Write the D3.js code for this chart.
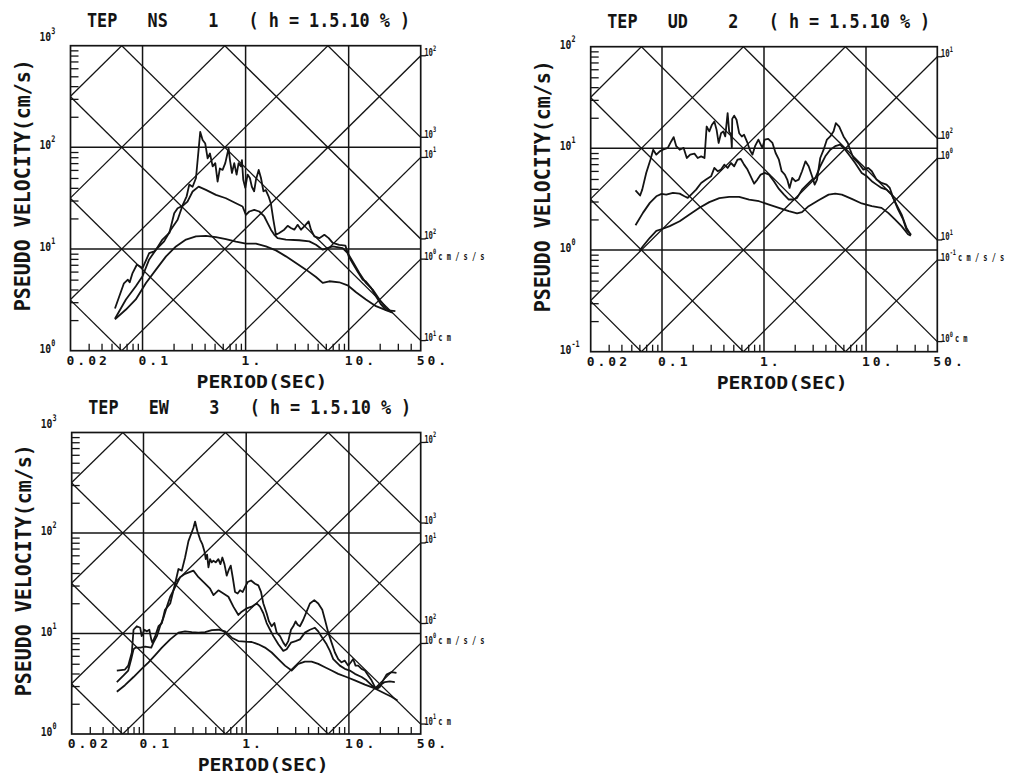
<!DOCTYPE html>
<html>
<head>
<meta charset="utf-8">
<script src="https://cdn.jsdelivr.net/npm/d3@7"></script>
<style>
  body { margin: 0; background: #fff; }
  svg text { font-family: "DejaVu Sans Mono", monospace; fill: #141414; font-weight: bold; }
</style>
</head>
<body>
<svg id="chart" width="1012" height="780"></svg>
<script>
// ── Data ─────────────────────────────────────────────────────────
// [period (s), pseudo velocity (cm/s)]
const periodDomain = [0.02, 50];
const periodTicks = [0.02, 0.1, 1, 10, 50];
const periodTickLabels = ["0.02", "0.1", "1.", "10.", "50."];
const periodGrid = [0.1, 1, 10];
const velDomainHoriz = [1, 1000];
const velDomainVert = [0.1, 100];

const panelTitles = [
    "TEP   NS    1   ( h = 1.5.10 % )",
    "TEP   UD    2   ( h = 1.5.10 % )",
    "TEP   EW    3   ( h = 1.5.10 % )"
];

// NS, damping 1 / 5 / 10 %
const nsH1 = [[0.054,2.6],[0.066,4.6],[0.072,5.0],[0.075,4.7],[0.080,5.8],[0.088,7.0],[0.093,6.8],[0.100,6.5],[0.116,9.1],[0.130,9.5],[0.145,10.6],[0.162,11.9],[0.188,15.5],[0.219,19.4],[0.245,27],[0.268,33],[0.284,43],[0.306,41],[0.330,50],[0.363,142],[0.383,118],[0.406,109],[0.428,78],[0.451,87],[0.479,65],[0.508,70],[0.535,46],[0.563,62],[0.598,60],[0.635,70],[0.684,98],[0.705,75],[0.737,56],[0.776,70],[0.818,54],[0.855,70],[0.902,65],[0.921,75],[0.949,48],[0.993,40],[1.045,54],[1.10,50],[1.15,41],[1.21,37],[1.26,48],[1.34,60],[1.41,50],[1.49,37],[1.57,38],[1.67,33],[1.76,28],[1.86,19.4],[1.97,13.8],[2.12,14.4],[2.37,15.5],[2.56,16.9],[2.75,16.1],[2.97,15.5],[3.20,17.3],[3.45,15.5],[3.71,16.7],[4.09,18.7],[4.31,15.5],[4.64,13.3],[5.19,12.8],[5.81,13.8],[6.40,12.8],[7.0,11.5],[8.1,11.0],[9.3,10.8],[10.0,8.5],[10.9,7.3],[12.2,6.0],[13.7,5.0],[14.7,4.8],[16.5,4.15],[18.4,3.43],[20.6,2.85],[23.0,2.51],[28.4,2.45]];
const nsH5 = [[0.054,2.06],[0.069,3.19],[0.086,4.31],[0.100,5.4],[0.116,7.9],[0.135,9.85],[0.156,12.4],[0.182,14.4],[0.203,22.5],[0.219,25.2],[0.245,26.6],[0.273,29.3],[0.306,36.8],[0.350,41.1],[0.412,38.2],[0.515,34.1],[0.644,31.6],[0.806,28.2],[0.935,26.2],[1.007,21.7],[1.086,23.4],[1.213,24.3],[1.357,23.4],[1.518,20.9],[1.635,18.0],[1.762,15.5],[1.898,13.8],[2.045,12.8],[2.46,12.4],[3.32,12.2],[4.15,11.9],[4.82,11.0],[5.60,9.85],[7.0,10.6],[8.74,10.2],[9.78,9.14],[10.9,7.57],[12.7,5.82],[14.7,4.64],[17.1,3.99],[19.9,3.19],[23.0,2.64],[25.8,2.40]];
const nsH10 = [[0.054,2.03],[0.069,2.54],[0.086,3.19],[0.108,4.64],[0.135,6.27],[0.169,8.47],[0.211,10.6],[0.264,12.4],[0.330,13.3],[0.412,13.5],[0.515,13.1],[0.644,12.5],[0.806,11.8],[1.007,11.3],[1.259,11.3],[1.574,10.6],[1.969,9.70],[2.46,8.47],[3.08,7.29],[3.85,6.27],[4.82,5.31],[5.60,4.64],[6.49,4.82],[8.11,4.71],[9.78,4.40],[11.8,3.76],[14.7,3.19],[18.4,2.74],[23.0,2.51],[26.7,2.36]];

// UD
const udH1 = [[0.055,3.87],[0.061,3.44],[0.064,3.93],[0.070,5.73],[0.077,7.74],[0.082,9.70],[0.088,8.67],[0.095,9.35],[0.102,9.70],[0.114,10.1],[0.123,11.7],[0.130,12.9],[0.138,10.5],[0.149,9.70],[0.163,10.1],[0.175,8.04],[0.189,8.67],[0.208,8.87],[0.224,8.04],[0.242,8.35],[0.261,8.04],[0.274,16.4],[0.291,14.7],[0.309,17.1],[0.326,18.4],[0.343,15.2],[0.359,11.3],[0.379,14.1],[0.399,14.7],[0.417,13.1],[0.440,22.2],[0.456,14.5],[0.474,13.8],[0.484,10.1],[0.488,19.5],[0.510,21.0],[0.538,19.1],[0.571,14.1],[0.606,13.1],[0.638,13.6],[0.689,11.3],[0.725,9.70],[0.770,8.67],[0.817,10.5],[0.881,12.2],[0.929,10.9],[0.964,10.1],[1.015,12.2],[1.10,12.4],[1.21,11.3],[1.30,9.0],[1.40,7.74],[1.49,5.96],[1.60,5.52],[1.69,4.93],[1.78,4.08],[1.89,5.12],[2.03,4.75],[2.19,4.93],[2.36,5.96],[2.55,7.46],[2.74,6.67],[2.96,5.31],[3.14,4.40],[3.31,4.93],[3.56,8.04],[3.84,9.70],[4.14,12.2],[4.46,13.1],[4.81,14.7],[5.06,17.7],[5.46,16.4],[6.02,13.1],[6.63,11.3],[6.99,9.70],[7.53,8.04],[8.43,7.18],[9.43,6.18],[10.5,6.42],[11.4,5.96],[12.7,4.93],[14.2,4.57],[15.9,4.40],[17.1,4.08],[18.5,3.26],[20.6,2.51],[23.1,2.00],[24.9,1.59],[27.6,1.42]];
const udH5 = [[0.055,1.75],[0.065,2.32],[0.076,2.91],[0.088,3.38],[0.099,3.57],[0.110,3.51],[0.128,3.65],[0.149,3.59],[0.166,3.38],[0.179,3.26],[0.193,3.51],[0.216,3.93],[0.242,4.57],[0.270,4.93],[0.303,5.31],[0.326,6.42],[0.351,5.96],[0.379,6.18],[0.408,6.92],[0.440,6.42],[0.474,7.18],[0.510,6.67],[0.550,7.74],[0.593,7.86],[0.638,6.92],[0.689,6.18],[0.741,5.31],[0.800,4.50],[0.861,4.93],[0.929,5.52],[1.015,5.73],[1.12,5.52],[1.25,4.75],[1.40,3.99],[1.57,3.51],[1.75,3.14],[1.96,3.14],[2.11,3.26],[2.36,3.93],[2.64,4.40],[2.96,4.93],[3.19,5.12],[3.56,6.67],[3.99,8.35],[4.46,9.70],[4.99,10.5],[5.58,10.9],[6.25,9.70],[6.99,8.35],[7.82,7.18],[9.08,5.73],[10.2,5.31],[11.4,4.75],[12.7,4.40],[14.2,4.08],[15.9,3.93],[17.8,3.51],[19.9,2.80],[22.3,2.24],[24.9,1.66],[27.5,1.40]];
const udH10 = [[0.060,0.98],[0.065,1.09],[0.076,1.32],[0.088,1.54],[0.102,1.62],[0.119,1.72],[0.149,1.92],[0.186,2.24],[0.233,2.60],[0.291,2.96],[0.365,3.24],[0.456,3.33],[0.571,3.33],[0.715,3.14],[0.894,3.02],[1.12,2.80],[1.40,2.60],[1.75,2.41],[2.11,2.29],[2.36,2.36],[2.74,2.70],[3.43,3.09],[4.30,3.51],[4.99,3.59],[5.80,3.51],[7.25,3.19],[9.08,2.87],[11.4,2.70],[14.2,2.60],[16.5,2.32],[19.2,2.00],[22.3,1.72],[25.8,1.43],[27.5,1.38]];

// EW
const ewH1 = [[0.055,4.28],[0.066,4.38],[0.071,4.79],[0.077,6.47],[0.080,10.9],[0.086,11.8],[0.093,11.4],[0.096,9.42],[0.102,10.9],[0.108,10.5],[0.114,10.9],[0.119,8.74],[0.122,8.11],[0.130,9.42],[0.140,11.8],[0.151,12.7],[0.162,17.2],[0.182,19.9],[0.203,31.3],[0.219,43.8],[0.236,42.2],[0.254,57.0],[0.274,82.9],[0.306,112],[0.318,130],[0.335,104],[0.356,86],[0.375,77],[0.392,66],[0.404,55],[0.416,61],[0.429,45.5],[0.445,55],[0.462,51],[0.480,53],[0.505,51],[0.536,55],[0.561,49],[0.586,57],[0.614,49],[0.646,37.7],[0.681,43.8],[0.707,47.3],[0.739,36.3],[0.778,25.9],[0.826,25.0],[0.871,26.9],[0.925,25.9],[0.975,29.0],[1.035,32.5],[1.115,33.7],[1.219,31.3],[1.313,30.1],[1.394,25.9],[1.469,19.9],[1.582,15.9],[1.667,13.2],[1.771,11.8],[1.879,12.7],[1.981,10.2],[2.134,9.42],[2.298,8.11],[2.421,7.52],[2.569,8.41],[2.729,10.9],[2.873,11.8],[3.028,13.2],[3.167,12.2],[3.336,11.8],[3.594,13.7],[3.872,16.5],[4.172,19.9],[4.600,21.5],[5.029,19.9],[5.504,17.2],[5.845,13.7],[6.296,10.2],[6.781,8.11],[7.304,6.47],[7.867,5.57],[8.474,5.17],[9.127,5.37],[9.830,4.79],[10.45,5.17],[11.01,5.57],[11.60,4.79],[12.32,4.79],[13.28,4.45],[14.31,4.28],[15.42,3.83],[16.61,3.42],[17.90,2.94],[18.99,2.84],[20.01,2.94],[21.56,3.42],[23.23,3.90],[25.98,4.13],[29.05,4.05]];
const ewH5 = [[0.055,3.29],[0.064,3.83],[0.071,4.28],[0.076,5.57],[0.080,6.98],[0.084,7.24],[0.093,7.24],[0.104,7.41],[0.119,7.24],[0.125,8.11],[0.135,9.42],[0.145,11.8],[0.156,14.2],[0.169,18.5],[0.182,23.2],[0.203,29.0],[0.227,36.3],[0.254,39.2],[0.306,42.2],[0.343,36.3],[0.398,31.3],[0.445,27.9],[0.480,24.1],[0.536,26.9],[0.600,25.0],[0.671,23.2],[0.750,18.5],[0.839,15.3],[0.904,16.5],[1.012,17.8],[1.131,18.5],[1.265,19.9],[1.363,18.5],[1.469,15.9],[1.582,12.7],[1.706,10.9],[1.838,9.42],[2.056,7.81],[2.298,6.72],[2.475,6.98],[2.729,8.11],[3.028,8.41],[3.336,8.74],[3.731,10.2],[4.172,10.9],[4.667,11.4],[5.029,10.5],[5.504,9.08],[6.066,7.81],[6.534,6.72],[7.038,5.57],[7.580,5.17],[8.165,4.79],[9.127,4.45],[10.20,4.28],[11.43,3.97],[13.28,3.69],[14.85,3.42],[16.61,3.06],[18.17,2.84],[20.01,3.06],[22.38,3.29],[25.03,3.34],[27.99,3.29]];
const ewH10 = [[0.055,2.63],[0.066,3.06],[0.080,3.69],[0.096,4.45],[0.112,5.17],[0.130,6.10],[0.151,7.24],[0.182,8.74],[0.219,10.2],[0.254,10.5],[0.295,10.3],[0.343,10.2],[0.398,10.3],[0.462,10.8],[0.536,10.9],[0.623,10.5],[0.723,9.08],[0.839,8.41],[0.975,8.29],[1.131,8.23],[1.313,7.81],[1.525,7.24],[1.771,6.47],[2.056,5.57],[2.385,4.79],[2.768,4.28],[3.214,4.98],[3.731,5.25],[4.330,5.25],[5.029,4.98],[5.845,4.62],[6.781,4.28],[7.867,3.97],[9.472,3.69],[11.43,3.42],[14.31,3.10],[17.90,2.84],[22.38,2.53],[25.98,2.35],[29.72,2.15]];

// ── Layout ───────────────────────────────────────────────────────
const ink = "#141414";
const TWO_PI = 2 * Math.PI;

const panels = [
    { title: panelTitles[0], vDomain: velDomainHoriz, curves: [nsH1, nsH5, nsH10],
      left: 70.5, right: 420.7, top: 45.7, bottom: 350.7, topLabelDy: -5 },
    { title: panelTitles[1], vDomain: velDomainVert, curves: [udH1, udH5, udH10],
      left: 590.7, right: 937.3, top: 46.7, bottom: 351.7, topLabelDy: 2 },
    { title: panelTitles[2], vDomain: velDomainHoriz, curves: [ewH1, ewH5, ewH10],
      left: 71.7, right: 420.7, top: 432.5, bottom: 734, topLabelDy: -5 }
];

const svg = d3.select("#chart");

const drawPanel = (p, i) => {
    const x = d3.scaleLog().domain(periodDomain).range([p.left, p.right]);
    const y = d3.scaleLog().domain(p.vDomain).range([p.bottom, p.top]);
    const [vMin, vMax] = p.vDomain;
    const kLo = Math.round(Math.log10(vMin));
    const kHi = Math.round(Math.log10(vMax));

    const g = svg.append("g");
    const clipId = `clip-${i}`;
    g.append("clipPath").attr("id", clipId)
        .append("rect")
        .attr("x", p.left).attr("y", p.top)
        .attr("width", p.right - p.left).attr("height", p.bottom - p.top);
    const inner = g.append("g").attr("clip-path", `url(#${clipId})`);

    const line = d3.line().x(d => x(d[0])).y(d => y(d[1]));

    // Vertical + horizontal grid
    inner.selectAll(".vgrid").data(periodGrid).join("line")
        .attr("x1", d => x(d)).attr("x2", d => x(d))
        .attr("y1", p.top).attr("y2", p.bottom)
        .attr("stroke", ink).attr("stroke-width", 1.5);

    const vGrid = d3.range(kLo + 1, kHi).map(k => Math.pow(10, k));
    inner.selectAll(".hgrid").data(vGrid).join("line")
        .attr("x1", p.left).attr("x2", p.right)
        .attr("y1", d => y(d)).attr("y2", d => y(d))
        .attr("stroke", ink).attr("stroke-width", 1.5);

    // Tripartite diagonals: acceleration (slope +1) and displacement (slope -1)
    const ks = d3.range(-6, 9);
    const accLines = ks.map(k => ({ k, type: "acc", f: T => Math.pow(10, k) * T / TWO_PI }));
    const dispLines = ks.map(k => ({ k, type: "disp", f: T => TWO_PI * Math.pow(10, k) / T }));
    const visible = l => {
        const a = l.f(periodDomain[0]), b = l.f(periodDomain[1]);
        return Math.max(a, b) > vMin && Math.min(a, b) < vMax;
    };
    const diagonals = [...accLines, ...dispLines].filter(visible);

    inner.selectAll(".diag").data(diagonals).join("path")
        .attr("d", l => line(periodDomain.map(T => [T, l.f(T)])))
        .attr("fill", "none")
        .attr("stroke", ink)
        .attr("stroke-width", 1.3);

    // Minor ticks, pointing inward
    const vMinor = [];
    d3.range(kLo, kHi).forEach(k => d3.range(2, 10).forEach(m => vMinor.push(m * Math.pow(10, k))));
    g.append("g")
        .attr("transform", `translate(${p.left},0)`)
        .style("color", ink)
        .call(d3.axisLeft(y).tickValues(vMinor).tickSize(-8).tickFormat(""))
        .call(a => a.select(".domain").remove())
        .selectAll("line").attr("stroke-width", 1.3);

    const tMinor = [];
    [-2, -1, 0, 1].forEach(k => d3.range(2, 10).forEach(m => {
        const t = m * Math.pow(10, k);
        if (t > periodDomain[0] && t < periodDomain[1]) tMinor.push(t);
    }));
    g.append("g")
        .attr("transform", `translate(0,${p.bottom})`)
        .style("color", ink)
        .call(d3.axisBottom(x).tickValues(tMinor).tickSize(-7).tickFormat(""))
        .call(a => a.select(".domain").remove())
        .selectAll("line").attr("stroke-width", 1.3);

    // Spectra
    g.selectAll(".curve").data(p.curves).join("path")
        .attr("d", line)
        .attr("fill", "none")
        .attr("stroke", ink)
        .attr("stroke-width", 1.8)
        .attr("stroke-linejoin", "round");

    // Frame
    g.append("rect")
        .attr("x", p.left).attr("y", p.top)
        .attr("width", p.right - p.left).attr("height", p.bottom - p.top)
        .attr("fill", "none").attr("stroke", ink).attr("stroke-width", 1.7);

    // Title
    g.append("text")
        .attr("x", p.left + 16.5).attr("y", p.top - 19)
        .attr("font-size", 19)
        .attr("textLength", 323).attr("lengthAdjust", "spacingAndGlyphs")
        .style("white-space", "pre")
        .text(p.title);

    // Axis titles
    g.append("text")
        .attr("x", p.left + 126).attr("y", p.bottom + 37)
        .attr("font-size", 18)
        .attr("textLength", 131).attr("lengthAdjust", "spacingAndGlyphs")
        .text("PERIOD(SEC)");

    g.append("text")
        .attr("transform", `translate(${p.left - 41},${(p.top + p.bottom) / 2 - 13}) rotate(-90)`)
        .attr("text-anchor", "middle")
        .attr("font-size", 22)
        .attr("textLength", 252).attr("lengthAdjust", "spacingAndGlyphs")
        .text("PSEUDO VELOCITY(cm/s)");

    // Period tick labels (first glyph centred on the tick)
    g.selectAll(".xlab").data(periodTicks).join("text")
        .attr("x", d => x(d) - 4).attr("y", p.bottom + 14)
        .attr("font-size", 13)
        .attr("letter-spacing", 3)
        .text((d, j) => periodTickLabels[j]);

    // Velocity decade labels on the left: "10" with a raised exponent
    const vDecades = d3.range(kLo, kHi + 1);
    const ylab = g.selectAll(".ylab").data(vDecades).join("text")
        .attr("transform", k => {
            const dy = k === kHi ? p.topLabelDy : 2;
            return `translate(${p.left - 31},${y(Math.pow(10, k)) + dy}) scale(0.75,1)`;
        })
        .attr("font-size", 13);
    ylab.append("tspan").text("10");
    ylab.append("tspan").attr("font-size", 9).attr("dy", -7).text(k => k);

    // Right-edge labels where diagonals meet T = 50
    const Tend = periodDomain[1];
    const edge = diagonals
        .map(l => ({ ...l, v: l.f(Tend) }))
        .filter(l => l.v >= vMin * 1.0001 && l.v <= vMax);
    const lowest = type => d3.min(edge.filter(l => l.type === type), l => l.k);

    edge.forEach(l => {
        const yy = y(l.v);
        g.append("line")
            .attr("x1", p.right).attr("x2", p.right + 5)
            .attr("y1", yy).attr("y2", yy)
            .attr("stroke", ink).attr("stroke-width", 1.3);
        const lab = g.append("text")
            .attr("transform", `translate(${p.right + 3.5},${yy + 0.5}) scale(0.7,1)`)
            .attr("font-size", 10.5);
        lab.append("tspan").text("10");
        lab.append("tspan").attr("font-size", 7.5).attr("dy", -5.5).text(l.k);
        if (l.k === lowest(l.type)) {
            lab.append("tspan")
                .attr("font-size", 10).attr("dy", 5.5).attr("dx", 3)
                .attr("letter-spacing", 6)
                .text(l.type === "acc" ? "cm/s/s" : "cm");
        }
    });
};

panels.forEach(drawPanel);
</script>
</body>
</html>
